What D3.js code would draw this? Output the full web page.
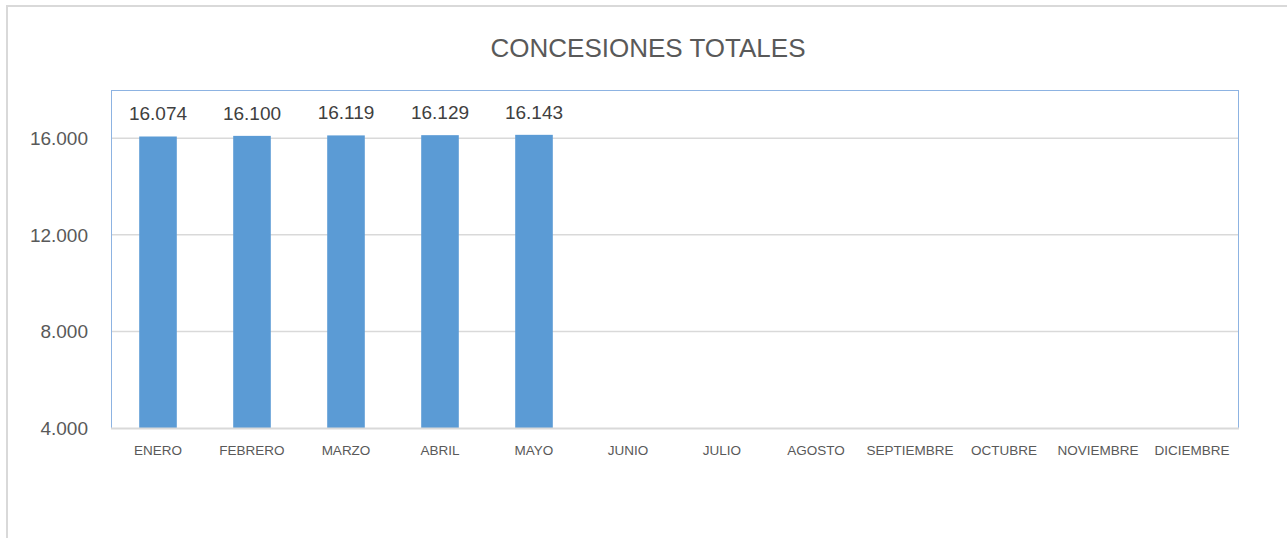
<!DOCTYPE html>
<html>
<head>
<meta charset="utf-8">
<script src="https://cdn.jsdelivr.net/npm/d3@7"></script>
<style>
  html, body { margin: 0; padding: 0; background: #fff; }
  svg { display: block; }
</style>
</head>
<body>
<div id="chart"></div>
<script>
const title = "CONCESIONES TOTALES";
const months = ["ENERO","FEBRERO","MARZO","ABRIL","MAYO","JUNIO","JULIO","AGOSTO","SEPTIEMBRE","OCTUBRE","NOVIEMBRE","DICIEMBRE"];
const values = [16074, 16100, 16119, 16129, 16143, null, null, null, null, null, null, null];
const yTicks = [4000, 8000, 12000, 16000];
const yDomain = [4000, 18000];

const W = 1287, H = 538;
const plot = { left: 111, top: 90, right: 1239, bottom: 428 };

const fmt = d => d3.format(",")(d).replace(/,/g, ".");

const svg = d3.select("#chart").append("svg")
  .attr("width", W).attr("height", H)
  .style("font-family", "'Liberation Sans', Arial, sans-serif");

// outer chart border
svg.append("rect")
  .attr("x", 7).attr("y", 6)
  .attr("width", W + 10).attr("height", H + 10)
  .attr("fill", "#fff").attr("stroke", "#d9d9d9").attr("stroke-width", 2);

const x = d3.scaleBand().domain(months).range([plot.left, plot.right]).paddingInner(0.6).paddingOuter(0.3);
const xCat = d3.scaleBand().domain(months).range([plot.left, plot.right]);
const y = d3.scaleLinear().domain(yDomain).range([plot.bottom, plot.top]);

// gridlines
svg.append("g").selectAll("line").data(yTicks.filter(t => t > yDomain[0])).join("line")
  .attr("x1", plot.left).attr("x2", plot.right)
  .attr("y1", d => y(d)).attr("y2", d => y(d))
  .attr("stroke", "#d9d9d9").attr("stroke-width", 1.5);

// plot area border
svg.append("rect")
  .attr("x", plot.left + 0.5).attr("y", plot.top + 0.5)
  .attr("width", plot.right - plot.left - 1).attr("height", plot.bottom - plot.top)
  .attr("fill", "none").attr("stroke", "#8db3e2").attr("stroke-width", 1);

// bars
const data = months.map((m, i) => ({ m, v: values[i] })).filter(d => d.v != null);
const bw = xCat.bandwidth() / 2.5;
svg.append("g").selectAll("rect").data(data).join("rect")
  .attr("x", d => xCat(d.m) + xCat.bandwidth() / 2 - bw / 2)
  .attr("width", bw)
  .attr("y", d => y(d.v))
  .attr("height", d => y(yDomain[0]) - y(d.v))
  .attr("fill", "#5b9bd5");

// x axis line
svg.append("line")
  .attr("x1", plot.left).attr("x2", plot.right)
  .attr("y1", plot.bottom + 0.5).attr("y2", plot.bottom + 0.5)
  .attr("stroke", "#d9d9d9").attr("stroke-width", 2);

// value labels
svg.append("g").selectAll("text").data(data).join("text")
  .attr("x", d => xCat(d.m) + xCat.bandwidth() / 2)
  .attr("y", d => y(d.v) - 16)
  .attr("text-anchor", "middle")
  .attr("font-size", 19)
  .attr("fill", "#404040")
  .text(d => fmt(d.v));

// y tick labels
svg.append("g").selectAll("text").data(yTicks).join("text")
  .attr("x", 88)
  .attr("y", d => y(d) + 7)
  .attr("text-anchor", "end")
  .attr("font-size", 19)
  .attr("fill", "#595959")
  .text(d => fmt(d));

// x tick labels
svg.append("g").selectAll("text").data(months).join("text")
  .attr("x", d => xCat(d) + xCat.bandwidth() / 2)
  .attr("y", 455)
  .attr("text-anchor", "middle")
  .attr("font-size", 13.5)
  .attr("fill", "#595959")
  .text(d => d);

// title
svg.append("text")
  .attr("x", 648).attr("y", 57)
  .attr("text-anchor", "middle")
  .attr("font-size", 26)
  .attr("fill", "#595959")
  .text(title);
</script>
</body>
</html>
